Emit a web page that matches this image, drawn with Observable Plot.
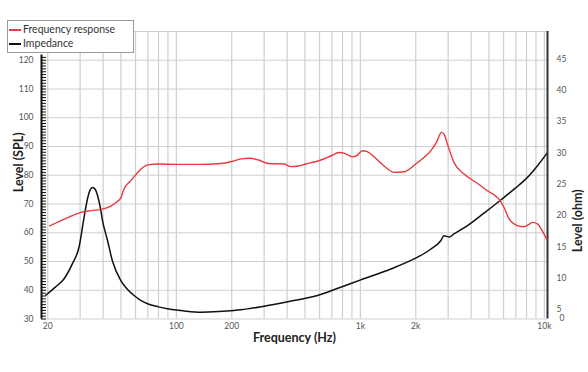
<!DOCTYPE html>
<html>
<head>
<meta charset="utf-8">
<script src="https://cdn.jsdelivr.net/npm/d3@7"></script>
<script src="https://cdn.jsdelivr.net/npm/@observablehq/plot@0.6"></script>
<style>
  html, body { margin: 0; padding: 0; background: #fff; }
  #wrap { position: relative; width: 588px; height: 372px; font-family: Lato, "Open Sans", sans-serif; }
  #legend { position: absolute; left: 7px; top: 20px; width: 127px; height: 33px; border: 1px solid #9a9a9a; background: #fff; box-sizing: border-box; }
  .sw { position: absolute; left: 1px; width: 12px; height: 1.6px; }
  .lt { position: absolute; left: 15px; font-size: 10.5px; color: #333; line-height: 12px; white-space: nowrap; }
</style>
</head>
<body>
<div id="wrap">
  <div id="chart"></div>
  <div id="legend">
    <div class="sw" style="top:8px;background:#e8393e"></div>
    <div class="lt" style="top:2px">Frequency response</div>
    <div class="sw" style="top:22px;background:#111"></div>
    <div class="lt" style="top:16px">Impedance</div>
  </div>
</div>
<script>
// ---- data ----
const xDomain = [18.5, 10400];
const xTicks = [20, 50, 100, 200, 500, 1000, 2000, 5000, 10000];
const xTickLabels = ["20", "50", "100", "200", "500", "1k", "2k", "5k", "10k"];
const xGrid = [20, 30, 40, 50, 60, 70, 80, 90, 100, 200, 300, 400, 500, 600, 700, 800, 900, 1000, 2000, 3000, 4000, 5000, 6000, 7000, 8000, 9000, 10000];
const splDomain = [30, 130];
const splTicks = [30, 40, 50, 60, 70, 80, 90, 100, 110, 120];
const splGrid = [30, 40, 50, 60, 70, 80, 90, 100, 110, 120, 130];
const ohmTicks = [5, 10, 15, 20, 25, 30, 35, 40, 45];

const respFreq = [20.5, 25, 30, 34.5, 40, 44, 47, 50, 51.5, 53, 56, 61.5, 66, 70, 80, 100, 130, 175, 200, 225, 250, 280, 315, 385, 420, 460, 505, 560, 610, 690, 766, 815, 860, 906, 960, 1026, 1080, 1140, 1240, 1380, 1524, 1730, 2000, 2200, 2413, 2600, 2758, 2850, 2974, 3230, 3660, 4300, 4906, 5670, 6040, 6430, 6800, 7140, 7756, 8200, 8616, 9170, 9700, 10300];
const respSpl  = [62.4, 64.9, 67.0, 67.7, 68.3, 69.3, 70.5, 72.2, 74.6, 76.2, 77.8, 80.9, 82.8, 83.6, 83.9, 83.8, 83.8, 84.1, 84.8, 85.7, 85.9, 85.3, 84.1, 83.9, 83.0, 83.2, 83.9, 84.6, 85.3, 86.7, 87.9, 87.7, 87.0, 86.4, 86.9, 88.5, 88.3, 87.4, 85.3, 82.6, 81.0, 81.2, 83.9, 86.0, 88.5, 91.6, 94.9, 94.3, 90.8, 84.4, 80.4, 77.3, 74.6, 71.7, 68.8, 64.8, 63.2, 62.5, 62.1, 62.8, 63.6, 63.1, 60.8, 57.8];

const impFreq = [19.5, 22, 24.5, 27.2, 29.6, 31.5, 32.9, 34, 35, 36.2, 37.3, 38.5, 39.7, 42.3, 44.9, 49.9, 54, 58.9, 64, 69.8, 80, 89.4, 110, 135.7, 170, 205.8, 224, 300, 410, 585, 782, 1005, 1463, 1958, 2400, 2735, 2850, 3050, 3200, 3820, 4700, 5797, 6900, 8093, 9200, 10300];
const impOhm  = [7.3, 8.6, 9.9, 12.3, 15.0, 19.7, 22.7, 24.1, 24.5, 24.2, 23.2, 21.5, 19.2, 16.0, 12.8, 9.65, 8.3, 7.26, 6.5, 5.94, 5.45, 5.14, 4.8, 4.6, 4.7, 4.87, 4.98, 5.56, 6.31, 7.26, 8.58, 9.76, 11.5, 13.1, 14.6, 16.0, 16.8, 16.6, 17.0, 18.4, 20.4, 22.5, 24.3, 26.1, 28.0, 29.9];

// dual-axis mapping: ohm -> position on the SPL scale
const ohmOffset = 22.33, ohmFactor = 2.181;
const ohmToSpl = o => ohmOffset + ohmFactor * o;
const splToOhm = s => Math.round((s - ohmOffset) / ohmFactor);

const resp = respFreq.map((f, i) => ({f, v: respSpl[i]}));
const imp = impFreq.map((f, i) => ({f, v: ohmToSpl(impOhm[i])}));

const W = 588, H = 372, mL = 41, mR = 41, mT = 31, mB = 53.5;
const tickColor = "#555", gridColor = "#cfcfcf", fs = 8.5;

const chart = Plot.plot({
  width: W, height: H,
  marginLeft: mL, marginRight: mR, marginTop: mT, marginBottom: mB,
  style: {fontFamily: "Lato, 'Open Sans', sans-serif", background: "#fff"},
  x: {type: "log", domain: xDomain},
  y: {domain: splDomain},
  marks: [
    Plot.gridX(xGrid, {stroke: gridColor, strokeOpacity: 1, strokeWidth: 1.2}),
    Plot.gridY(splGrid, {stroke: gridColor, strokeOpacity: 1, strokeWidth: 1.2}),
    Plot.axisX(xTicks, {tickSize: 0, tickPadding: 4, fontSize: fs, fill: tickColor, label: null,
      tickFormat: d => xTickLabels[xTicks.indexOf(d)]}),
    Plot.axisY(splTicks, {anchor: "left", tickSize: 0, tickPadding: 8, fontSize: fs, fill: tickColor, label: null}),
    Plot.axisY(ohmTicks.map(ohmToSpl), {anchor: "right", tickSize: 0, tickPadding: 9, fontSize: fs, fill: tickColor, label: null,
      tickFormat: splToOhm}),
    Plot.text(["0"], {frameAnchor: "bottom-right", dx: 12, dy: 2, textAnchor: "start", fontSize: fs, fill: tickColor}),
    // left ruler-like axis
    Plot.tickY(d3.range(30, 122), {y: d => d, stroke: "#111", strokeWidth: 1, insetRight: (W - mL - mR) - 5}),
    Plot.ruleX([xDomain[0]], {y1: 30, y2: 121.8, stroke: "#111", strokeWidth: 2}),
    Plot.ruleX([xDomain[1]], {stroke: "#333", strokeWidth: 2}),
    // curves
    Plot.line(imp, {x: "f", y: "v", stroke: "#111", strokeWidth: 1.5, curve: "monotone-x"}),
    Plot.line(resp, {x: "f", y: "v", stroke: "#e8393e", strokeWidth: 1.4, curve: "monotone-x"}),
    // axis titles
    Plot.text(["Level (SPL)"], {frameAnchor: "left", dx: -23, dy: 17, rotate: -90, fontWeight: "bold", fontSize: 12.5, fill: "#222"}),
    Plot.text(["Level (ohm)"], {frameAnchor: "right", dx: 30, dy: 14, rotate: -90, fontWeight: "bold", fontSize: 12.5, fill: "#222"}),
    Plot.text(["Frequency (Hz)"], {frameAnchor: "bottom", dy: 23, fontWeight: "bold", fontSize: 12.5, fill: "#222"})
  ]
});
document.getElementById("chart").appendChild(chart);
</script>
</body>
</html>
